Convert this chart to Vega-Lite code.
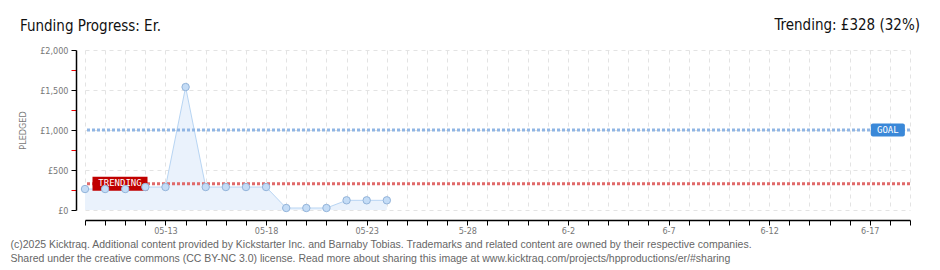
{
  "$schema": "https://vega.github.io/schema/vega-lite/v6.json",
  "width": 825,
  "height": 160,
  "autosize": {"type": "none"},
  "padding": {"left": 85, "top": 50, "right": 30, "bottom": 60},
  "background": "white",
  "config": {
    "view": {"stroke": null},
    "font": "DejaVu Sans Condensed"
  },
  "encoding": {
    "x": {
      "field": "date",
      "type": "temporal",
      "scale": {"type": "utc", "domain": [{"year": 2025, "month": 5, "date": 9, "utc": true}, {"year": 2025, "month": 6, "date": 19, "utc": true}]},
      "axis": {
        "offset": 10,
        "tickCount": {"interval": "day", "step": 1},
        "labelExpr": "utcdayofyear(datum.value) % 5 == 3 ? (utcdayofyear(datum.value) < 146 ? utcFormat(datum.value, '%m-%d') : utcFormat(datum.value, '%-m-%-d')) : ''",
        "labelOverlap": false,
        "labelFlush": false,
        "labelBound": false,
        "labelColor": "#777777",
        "labelFontSize": 9,
        "labelPadding": 1,
        "tickColor": "#000000",
        "tickSize": 5,
        "domainColor": "#000000",
        "domainWidth": 1.5,
        "grid": true,
        "gridColor": "#e3e3e3",
        "gridDash": [4, 4],
        "title": ["(c)2025 Kicktraq. Additional content provided by Kickstarter Inc. and Barnaby Tobias. Trademarks and related content are owned by their respective companies.", "Shared under the creative commons (CC BY-NC 3.0) license. Read more about sharing this image at www.kicktraq.com/projects/hpproductions/er/#sharing"],
        "titleAnchor": "start",
        "titleAlign": "left",
        "titleBaseline": "alphabetic",
        "titleX": -75,
        "titleY": 27,
        "titleLineHeight": 14,
        "titleFontSize": 10.5,
        "titleFont": "Liberation Sans",
        "titleFontWeight": "normal",
        "titleColor": "#666666"
      }
    },
    "y": {
      "field": "pledged",
      "type": "quantitative",
      "scale": {"domain": [0, 2000], "nice": false},
      "axis": {
        "offset": 9,
        "values": [0, 250, 500, 750, 1000, 1250, 1500, 1750, 2000],
        "labelExpr": "datum.value % 500 == 0 ? '£' + format(datum.value, ',') : ''",
        "labelColor": "#777777",
        "labelFontSize": 9,
        "labelPadding": 3,
        "tickColor": {"expr": "datum.value % 500 == 0 ? '#000000' : '#ee0000'"},
        "tickSize": 5,
        "domainColor": "#000000",
        "domainWidth": 1.5,
        "grid": true,
        "gridColor": "#e3e3e3",
        "gridDash": [4, 4],
        "gridOpacity": {"expr": "datum.value % 500 == 0 ? 1 : 0"},
        "title": "PLEDGED",
        "titleColor": "#777777",
        "titleFontSize": 9,
        "titleFontWeight": "normal",
        "titlePadding": 12
      }
    }
  },
  "layer": [
    {
      "data": {"values": [
        {"date": "2025-05-09", "pledged": 262},
        {"date": "2025-05-10", "pledged": 262},
        {"date": "2025-05-11", "pledged": 262},
        {"date": "2025-05-12", "pledged": 287},
        {"date": "2025-05-13", "pledged": 287},
        {"date": "2025-05-14", "pledged": 1537},
        {"date": "2025-05-15", "pledged": 287},
        {"date": "2025-05-16", "pledged": 287},
        {"date": "2025-05-17", "pledged": 287},
        {"date": "2025-05-18", "pledged": 287},
        {"date": "2025-05-19", "pledged": 25},
        {"date": "2025-05-20", "pledged": 25},
        {"date": "2025-05-21", "pledged": 25},
        {"date": "2025-05-22", "pledged": 121},
        {"date": "2025-05-23", "pledged": 121},
        {"date": "2025-05-24", "pledged": 121}
      ]},
      "layer": [
        {"mark": {"type": "area", "color": "#eaf2fc", "opacity": 1}},
        {"mark": {"type": "line", "color": "#b8d5f3", "strokeWidth": 1}}
      ]
    },
    {
      "data": {"values": [{"line": "Trending", "pledged": 328}]},
      "mark": {"type": "rule", "color": "#e06a6a", "strokeWidth": 3, "strokeDash": [3, 2]},
      "encoding": {"x": null}
    },
    {
      "data": {"values": [{"line": "Goal", "pledged": 1000}]},
      "mark": {"type": "rule", "color": "#8fb5e4", "strokeWidth": 3, "strokeDash": [3, 2]},
      "encoding": {"x": null}
    },
    {
      "data": {"values": [{"label": "TRENDING", "date": "2025-05-09", "pledged": 328}]},
      "layer": [
        {"mark": {"type": "rect", "width": 55, "height": 14, "xOffset": 35, "color": "#c00000"}},
        {"mark": {"type": "text", "xOffset": 35, "dy": -1, "color": "white", "fontSize": 9, "font": "DejaVu Sans Mono", "align": "center", "baseline": "middle"}, "encoding": {"text": {"field": "label"}}}
      ]
    },
    {
      "data": {"values": [{"label": "GOAL", "date": "2025-06-18", "pledged": 1000}]},
      "layer": [
        {"mark": {"type": "rect", "width": 34, "height": 13, "xOffset": -2, "color": "#3a88d8", "cornerRadius": 2}},
        {"mark": {"type": "text", "xOffset": -2, "color": "white", "fontSize": 9, "font": "DejaVu Sans Mono", "align": "center", "baseline": "middle"}, "encoding": {"text": {"field": "label"}}}
      ]
    },
    {
      "data": {"values": [
        {"date": "2025-05-09", "pledged": 262},
        {"date": "2025-05-10", "pledged": 262},
        {"date": "2025-05-11", "pledged": 262},
        {"date": "2025-05-12", "pledged": 287},
        {"date": "2025-05-13", "pledged": 287},
        {"date": "2025-05-14", "pledged": 1537},
        {"date": "2025-05-15", "pledged": 287},
        {"date": "2025-05-16", "pledged": 287},
        {"date": "2025-05-17", "pledged": 287},
        {"date": "2025-05-18", "pledged": 287},
        {"date": "2025-05-19", "pledged": 25},
        {"date": "2025-05-20", "pledged": 25},
        {"date": "2025-05-21", "pledged": 25},
        {"date": "2025-05-22", "pledged": 121},
        {"date": "2025-05-23", "pledged": 121},
        {"date": "2025-05-24", "pledged": 121}
      ]},
      "mark": {"type": "point", "filled": true, "fill": "#c4dcf6", "stroke": "#93b4da", "strokeWidth": 1, "size": 55, "opacity": 1, "shape": "circle"}
    },
    {
      "data": {"values": [{"text": "Trending: £328 (32%)", "date": "2025-06-19", "pledged": 2000}]},
      "mark": {"type": "text", "align": "right", "baseline": "alphabetic", "fontSize": 15, "font": "DejaVu Sans Condensed", "color": "#111111", "dx": 10, "dy": -20},
      "encoding": {
        "text": {"field": "text"}
      }
    },
    {
      "data": {"values": [{"text": "Funding Progress: Er.", "date": "2025-05-09", "pledged": 2000}]},
      "mark": {"type": "text", "align": "left", "baseline": "alphabetic", "fontSize": 15, "font": "DejaVu Sans Condensed", "color": "#111111", "dx": -65, "dy": -19},
      "encoding": {
        "text": {"field": "text"}
      }
    }
  ]
}
